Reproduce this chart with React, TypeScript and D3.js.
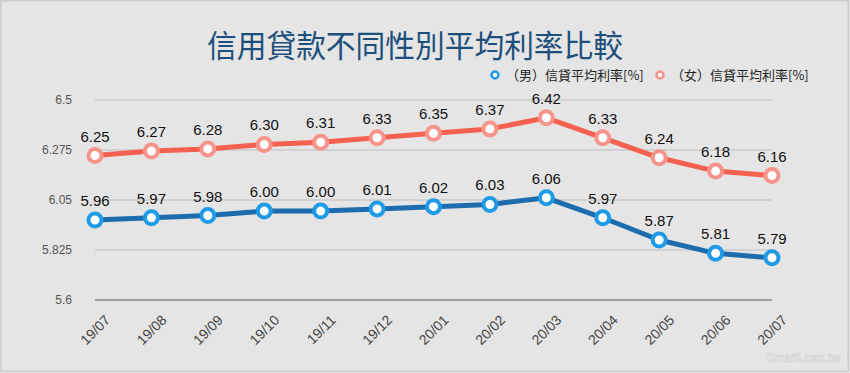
import React, { useEffect, useRef } from 'react'
import * as d3 from 'd3'

const months = ['19/07', '19/08', '19/09', '19/10', '19/11', '19/12', '20/01', '20/02', '20/03', '20/04', '20/05', '20/06', '20/07']
const maleRates = [5.96, 5.97, 5.98, 6.0, 6.0, 6.01, 6.02, 6.03, 6.06, 5.97, 5.87, 5.81, 5.79]
const femaleRates = [6.25, 6.27, 6.28, 6.3, 6.31, 6.33, 6.35, 6.37, 6.42, 6.33, 6.24, 6.18, 6.16]
const yTicks = [5.6, 5.825, 6.05, 6.275, 6.5]
const seriesNames = ['（男）信貸平均利率[%]', '（女）信貸平均利率[%]']

const Chart: React.FC = () => {
  const svgRef = useRef<SVGSVGElement | null>(null)

  useEffect(() => {
    if (!svgRef.current) return
    const svg = d3.select(svgRef.current)
    svg.selectAll('*').remove()
    const width = 850
    const height = 373
    const margin = { top: 100, right: 73, bottom: 73, left: 95 }

    svg.attr('width', width).attr('height', height).attr('viewBox', [0, 0, width, height])

    svg
      .append('rect')
      .attr('x', 0.5)
      .attr('y', 0.5)
      .attr('width', width - 2)
      .attr('height', height - 2)
      .attr('fill', '#e5e5e5')
      .attr('stroke', '#c9cbcc')
      .attr('stroke-width', 2)

    const x = d3
      .scalePoint()
      .domain(months)
      .range([margin.left, width - margin.right - 5])
      .padding(0)

    const y = d3
      .scaleLinear()
      .domain([5.6, 6.5])
      .range([height - margin.bottom, margin.top])

    // title, a bit condensed like the original
    svg
      .append('text')
      .attr('x', 415)
      .attr('y', 57)
      .attr('text-anchor', 'middle')
      .attr('fill', '#1d4f7c')
      .attr('textLength', 416)
      .attr('lengthAdjust', 'spacingAndGlyphs')
      .style('font', '31px "Noto Sans CJK TC", sans-serif')
      .text('信用貸款不同性別平均利率比較')

    // grid
    const grid = svg.append('g')
    grid
      .selectAll('line')
      .data(yTicks)
      .join('line')
      .attr('x1', x(months[0])!)
      .attr('x2', x(months[months.length - 1])!)
      .attr('y1', d => y(d))
      .attr('y2', d => y(d))
      .attr('stroke', d => (d === 5.6 ? '#9e9e9e' : '#bdbdbd'))
      .attr('stroke-width', d => (d === 5.6 ? 2 : 1))

    grid
      .selectAll('text')
      .data(yTicks)
      .join('text')
      .attr('x', 72)
      .attr('y', d => y(d))
      .attr('dy', '0.35em')
      .attr('text-anchor', 'end')
      .attr('fill', '#555')
      .style('font', '12px "Liberation Sans", Arial, sans-serif')
      .text(d => String(d))

    // x labels
    svg
      .append('g')
      .selectAll('text')
      .data(months)
      .join('text')
      .attr('transform', d => `translate(${x(d)! + 16},${y(5.6) + 21}) rotate(-45)`)
      .attr('text-anchor', 'end')
      .attr('fill', '#444')
      .style('font', '14px "Liberation Sans", Arial, sans-serif')
      .text(d => d)

    const series = [
      { values: femaleRates, line: '#f5604f', marker: '#f6948b' },
      { values: maleRates, line: '#1c6cae', marker: '#1e9ae6' },
    ]

    const line = d3
      .line<number>()
      .x((d, i) => x(months[i])!)
      .y(d => y(d))

    series.forEach(s => {
      const g = svg.append('g')
      g.append('path')
        .attr('d', line(s.values))
        .attr('fill', 'none')
        .attr('stroke', s.line)
        .attr('stroke-width', 5)
        .attr('stroke-linejoin', 'round')
      g.selectAll('circle')
        .data(s.values)
        .join('circle')
        .attr('cx', (d, i) => x(months[i])!)
        .attr('cy', d => y(d))
        .attr('r', 6.5)
        .attr('fill', '#fff')
        .attr('stroke', s.marker)
        .attr('stroke-width', 4)
      g.selectAll('text')
        .data(s.values)
        .join('text')
        .attr('x', (d, i) => x(months[i])!)
        .attr('y', d => y(d) - 14)
        .attr('text-anchor', 'middle')
        .attr('fill', '#111')
        .style('font', '15px "Liberation Sans", Arial, sans-serif')
        .text(d => d.toFixed(2))
    })

    // legend
    const legend = svg.append('g')
    const legendItems = [
      { name: seriesNames[0], color: '#1e9ae6', x: 495 },
      { name: seriesNames[1], color: '#f6948b', x: 660 },
    ]
    legendItems.forEach(item => {
      legend
        .append('circle')
        .attr('cx', item.x)
        .attr('cy', 75)
        .attr('r', 3.5)
        .attr('fill', '#fff')
        .attr('stroke', item.color)
        .attr('stroke-width', 2.5)
      legend
        .append('text')
        .attr('x', item.x + 11)
        .attr('y', 75)
        .attr('dy', '0.35em')
        .attr('fill', '#222')
        .style('font', '13px "Noto Sans CJK TC", sans-serif')
        .text(item.name)
    })

    // watermark
    svg
      .append('text')
      .attr('x', 840)
      .attr('y', 362)
      .attr('text-anchor', 'end')
      .attr('fill', '#fafafa')
      .attr('stroke', '#c8c8c8')
      .attr('stroke-width', 0.5)
      .style('font', '12px "Liberation Sans", Arial, sans-serif')
      .text('SmartLoan.tw')
  }, [])

  return <svg ref={svgRef} style={{ display: 'block' }}></svg>
}

export default function App() {
  return (
    <>
      <style>{'body{margin:0}'}</style>
      <Chart />
    </>
  )
}
